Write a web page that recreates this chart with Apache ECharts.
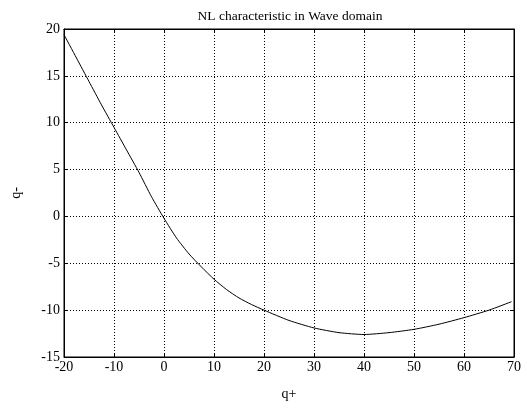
<!DOCTYPE html>
<html><head><meta charset="utf-8">
<script src="https://cdn.jsdelivr.net/npm/echarts@6/dist/echarts.min.js"></script>
<style>html,body{margin:0;padding:0;background:#fff}#c{width:527px;height:411px}</style>
</head><body><div id="c"></div>
<script>
const qPlus  = [-20, -17.5, -15, -12.5, -10, -7.5, -5, -2.5, 0, 2.5, 5, 7.5, 10, 12.5, 15, 17.5, 20, 25, 30, 35, 40, 45, 50, 55, 60, 65, 69.5];
const qMinus = [19.4, 16.9, 14.4, 11.9, 9.5, 7.1, 4.7, 2.1, -0.2, -2.3, -4.0, -5.4, -6.7, -7.8, -8.7, -9.4, -10.0, -11.1, -11.9, -12.4, -12.6, -12.4, -12.05, -11.5, -10.8, -10.0, -9.1];
const title = 'NL characteristic in Wave domain';
const font = 'Liberation Serif';
const chart = echarts.init(document.getElementById('c'));
const gridLine = {show:true, lineStyle:{color:'#000', type:[1,2], width:1}};
const axLine = {show:true, onZero:false, lineStyle:{color:'#000'}};
const tick = {show:true, inside:true, length:4, lineStyle:{color:'#000'}};
chart.setOption({
  animation:false,
  title:{text:title, left:285, textAlign:'center', top:4, textStyle:{fontFamily:font, fontSize:13.5, fontWeight:'normal', color:'#000'}},
  grid:{left:64, right:13, top:29, bottom:54, show:true, borderColor:'#000', borderWidth:1},
  xAxis:[{type:'value', min:-20, max:70, interval:10, name:'q+', nameLocation:'middle', nameGap:30,
    nameTextStyle:{fontFamily:font, fontSize:14, color:'#000'},
    axisLine:axLine, axisTick:tick,
    axisLabel:{fontFamily:font, fontSize:14, color:'#000', margin:3}, splitLine:gridLine},
    {type:'value', position:'top', min:-20, max:70, interval:10, axisLine:axLine,
    axisTick:tick, axisLabel:{show:false}, splitLine:{show:false}}],
  yAxis:[{type:'value', min:-15, max:20, interval:5, name:'q-', nameLocation:'middle', nameGap:41,
    nameTextStyle:{fontFamily:font, fontSize:14, color:'#000'},
    axisLine:axLine, axisTick:tick,
    axisLabel:{fontFamily:font, fontSize:14, color:'#000', margin:4}, splitLine:gridLine},
    {type:'value', position:'right', min:-15, max:20, interval:5, axisLine:axLine,
    axisTick:tick, axisLabel:{show:false}, splitLine:{show:false}}],
  series:[{type:'line', data:qPlus.map((x,i)=>[x,qMinus[i]]), smooth:0.2, showSymbol:false,
    lineStyle:{color:'#000', width:1}}]
});
</script></body></html>
